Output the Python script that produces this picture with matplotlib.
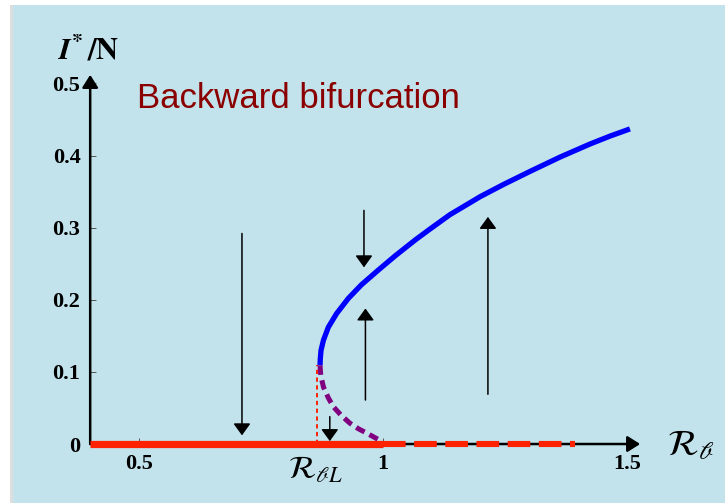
import matplotlib
matplotlib.use("Agg")
import matplotlib.pyplot as plt
from matplotlib.patches import Rectangle

plt.rcParams['mathtext.fontset'] = 'stix'

# stable endemic branch (blue)
stable_x = [0.871, 0.8715, 0.873, 0.878, 0.888, 0.905, 0.929, 0.956, 0.990, 1.025,
            1.066, 1.096, 1.137, 1.199, 1.247, 1.301, 1.363, 1.424, 1.465, 1.506]
stable_y = [0.109, 0.118, 0.130, 0.144, 0.162, 0.181, 0.202, 0.221, 0.241, 0.261,
            0.283, 0.298, 0.318, 0.343, 0.360, 0.378, 0.398, 0.416, 0.427, 0.437]
# unstable branch (purple dashed)
unstable_x = [0.871, 0.8725, 0.878, 0.888, 0.898, 0.914, 0.932, 0.950, 0.967, 0.983, 0.997, 1.0]
unstable_y = [0.109, 0.095, 0.079, 0.064, 0.052, 0.040, 0.029, 0.021, 0.015, 0.009, 0.004, 0.0]
# disease free equilibrium
dfe_stable_x = [0.4, 1.0]
dfe_unstable_x = [1.0, 1.393]
rbl = 0.865
rbl_top = 0.110

# phase arrows: x, start, end
arrow_x = [0.711, 0.961, 0.964, 1.215, 0.891]
arrow_from = [0.292, 0.324, 0.061, 0.069, 0.038]
arrow_to = [0.012, 0.245, 0.188, 0.315, 0.004]

xticks = [0.5, 1, 1.5]
xticklabels = ['0.5', '1', '1.5']
yticks = [0, 0.1, 0.2, 0.3, 0.4, 0.5]
yticklabels = ['0', '0.1', '0.2', '0.3', '0.4', '0.5']

bg = '#c3e3ec'

fig = plt.figure(figsize=(7.25, 5.03), dpi=100, facecolor='white')
fig.patches.append(Rectangle((10 / 725, 0), 5 / 725, 498 / 503, transform=fig.transFigure,
                             facecolor='#dedede', edgecolor='none', zorder=-11))
fig.patches.append(Rectangle((13 / 725, 0), 712 / 725, 498 / 503, transform=fig.transFigure,
                             facecolor=bg, edgecolor='none', zorder=-10))

ax = fig.add_axes([0, 0, 1, 1])
ax.set_facecolor('none')
ax.set_xlim(0.2152, 1.7008)
ax.set_ylim(-0.0818, 0.6158)
for s in ax.spines.values():
    s.set_visible(False)
ax.spines['left'].set_position(('data', 0.4))
ax.spines['bottom'].set_position(('data', 0))

ax.set_xticks(xticks)
ax.set_xticklabels(xticklabels)
ax.set_yticks(yticks)
ax.set_yticklabels(yticklabels)
ax.tick_params(direction='in', length=4, width=0.7, color='#555555', pad=7)
for lab in ax.get_xticklabels() + ax.get_yticklabels():
    lab.set_fontfamily('Liberation Serif')
    lab.set_fontweight('bold')
    lab.set_fontsize(16)

# coordinate axes with arrow heads
axis_style = dict(arrowstyle='-|>,head_length=0.38,head_width=0.24', lw=1.8, color='black',
                  shrinkA=0, shrinkB=0, mutation_scale=20)
ax.annotate('', xy=(0.4, 0.512), xytext=(0.4, 0), arrowprops=axis_style, zorder=2)
ax.annotate('', xy=(1.527, 0), xytext=(0.4, 0), arrowprops=axis_style, zorder=2)

# branches
ax.plot(stable_x, stable_y, color='#0000ff', lw=3.8, solid_capstyle='butt',
        solid_joinstyle='round', zorder=4)
ax.plot(unstable_x, unstable_y, color='#800080', lw=3.6, dashes=(1.9, 1.1), zorder=4)
ax.plot(dfe_stable_x, [0, 0], color='#ff2200', lw=5.2, solid_capstyle='butt', zorder=5)
ax.plot(dfe_unstable_x, [0, 0], color='#ff2200', lw=4.4, dashes=(3.7, 1.4), zorder=5)
ax.plot([rbl, rbl], [0, rbl_top], color='#ff2200', lw=1.4, dashes=(2.2, 1.8), zorder=3)

# phase arrows
arrow_style = dict(arrowstyle='-|>,head_length=0.36,head_width=0.26', lw=1.1, color='black',
                   shrinkA=0, shrinkB=0, mutation_scale=20)
for xa, y0, y1 in zip(arrow_x, arrow_from, arrow_to):
    ax.annotate('', xy=(xa, y1), xytext=(xa, y0), arrowprops=arrow_style, zorder=6)

ax.text(0.496, 0.466, 'Backward bifurcation', fontfamily='Liberation Sans', fontsize=25,
        color='#8a0000', ha='left', va='baseline')
ax.text(0.334, 0.533, r'$\mathbfit{I}^{\mathbf{*}}\,\mathbf{/N}$', fontsize=22,
        ha='left', va='baseline')
ax.text(1.582, -0.016, r'$\mathcal{R}_{\mathscr{b}}$', fontsize=26, ha='left', va='baseline')
ax.text(0.805, -0.048, r'$\mathcal{R}_{\mathscr{b}L}$', fontsize=23, ha='left', va='baseline')

fig.savefig('out.png', dpi=100, facecolor='white')
